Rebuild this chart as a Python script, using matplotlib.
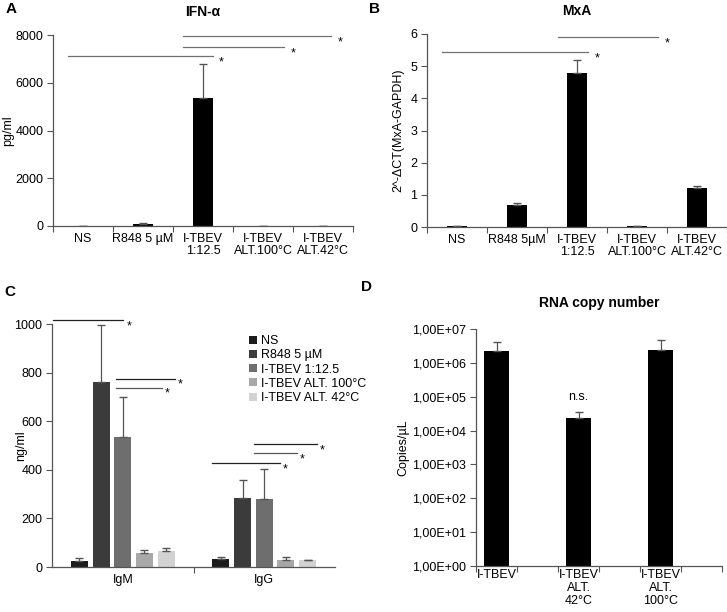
import numpy as np
import matplotlib
matplotlib.use('Agg')
from matplotlib import pyplot as plt

plt.rcParams['font.family'] = ['Liberation Sans', 'DejaVu Sans']
plt.rcParams['font.size'] = 9

# A : IFN-alpha
cats_a = ['NS', 'R848 5 µM', 'I-TBEV\n1:12.5', 'I-TBEV\nALT.100°C', 'I-TBEV\nALT.42°C']
ifn = [0, 100, 5350, 0, 0]
ifn_err = [0, 110, 6800, 0, 0]

# B : MxA
cats_b = ['NS', 'R848 5µM', 'I-TBEV\n1:12.5', 'I-TBEV\nALT.100°C', 'I-TBEV\nALT.42°C']
mxa = [0.02, 0.68, 4.78, 0.03, 1.22]
mxa_err = [0.03, 0.74, 5.2, 0.04, 1.28]

# C : IgM / IgG
groups_c = ['IgM', 'IgG']
series_c = ['NS', 'R848 5 µM', 'I-TBEV 1:12.5', 'I-TBEV ALT. 100°C', 'I-TBEV ALT. 42°C']
ig_vals = [[25, 33], [760, 283], [535, 280], [57, 30], [65, 28]]
ig_err = [[38, 43], [995, 357], [700, 402], [68, 43], [77, 28]]
colors_c = ['#1c1c1c', '#3b3b3b', '#6e6e6e', '#a8a8a8', '#d2d2d2']

# D : RNA copy number
cats_d = ['I-TBEV', 'I-TBEV\nALT.\n42°C', 'I-TBEV\nALT.\n100°C']
rna = [2.2e6, 2.3e4, 2.4e6]
rna_err = [4.2e6, 3.5e4, 4.7e6]

W, H = 727, 612
fig = plt.figure(figsize=(W / 100, H / 100), dpi=100)


def box(l, t, r, b):
    return [l / W, 1 - b / H, (r - l) / W, (b - t) / H]


def style(ax):
    for s in ['top', 'right']:
        ax.spines[s].set_visible(False)
    for s in ['left', 'bottom']:
        ax.spines[s].set_color('#555555')
        ax.spines[s].set_linewidth(0.9)
    ax.tick_params(axis='y', direction='out', length=4, color='#555555', pad=3)
    ax.tick_params(axis='x', which='major', direction='out', length=4, color='#555555')
    ax.tick_params(axis='x', which='minor', length=0, pad=5)


def cat_axis(ax, labels, pos):
    n = len(labels)
    ax.set_xticks(np.arange(-0.5, n - 0.4, 1))
    ax.set_xticklabels([])
    ax.set_xticks(pos, minor=True)
    ax.set_xticklabels(labels, minor=True, linespacing=1.05)


def sig(ax, x0, x1, y, xs, color='#707070'):
    ax.plot([x0, x1], [y, y], color=color, lw=0.9, clip_on=False)
    ax.text(xs, y, '*', ha='center', va='top', fontsize=9, clip_on=False)


# ---- A
ax = fig.add_axes(box(53, 35, 353, 226))
x = np.arange(5)
v = np.array(ifn)
ax.bar(x, v, width=0.32, color='black')
ax.errorbar(x, v, yerr=[np.zeros(5), np.array(ifn_err) - v], fmt='none',
            ecolor='#555555', elinewidth=0.9, capsize=3)
ax.set_xlim(-0.5, 4.5)
ax.set_ylim(0, 8000)
ax.set_yticks([0, 2000, 4000, 6000, 8000])
style(ax)
cat_axis(ax, cats_a, x)
ax.set_ylabel('pg/ml')
ax.yaxis.set_label_coords((14 - 53) / 300, 0.5)
ax.set_title('IFN-α', fontweight='bold', fontsize=10, pad=14)
sig(ax, -0.25, 2.17, 7120, 2.3)
sig(ax, 1.67, 3.35, 7500, 3.5)
sig(ax, 1.67, 4.13, 7960, 4.28)

# ---- B
ax = fig.add_axes(box(427, 34, 727, 227))
v = np.array(mxa)
ax.bar(x, v, width=0.32, color='black')
ax.errorbar(x, v, yerr=[np.zeros(5), np.array(mxa_err) - v], fmt='none',
            ecolor='#555555', elinewidth=0.9, capsize=3)
ax.set_xlim(-0.5, 4.5)
ax.set_ylim(0, 6)
ax.set_yticks(range(7))
style(ax)
cat_axis(ax, cats_b, x)
ax.set_ylabel('2^-ΔCT(MxA-GAPDH)')
ax.yaxis.set_label_coords((404 - 427) / 300, 0.5)
ax.set_title('MxA', fontweight='bold', fontsize=10, pad=14)
sig(ax, -0.25, 2.18, 5.44, 2.33)
sig(ax, 1.68, 3.35, 5.9, 3.5)

# ---- C
ax = fig.add_axes(box(52, 324, 335, 567))
gx = np.arange(2)
step = 0.153
for i in range(5):
    xi = gx + (i - 2) * step
    vi = np.array(ig_vals[i])
    ax.bar(xi, vi, width=0.12, color=colors_c[i], label=series_c[i])
    ax.errorbar(xi, vi, yerr=[np.zeros(2), np.array(ig_err[i]) - vi], fmt='none',
                ecolor='#555555', elinewidth=0.9, capsize=3)
ax.set_xlim(-0.5, 1.5)
ax.set_ylim(0, 1000)
ax.set_yticks([0, 200, 400, 600, 800, 1000])
style(ax)
ax.set_xticks([0.5])
ax.set_xticklabels([])
ax.set_xticks(gx, minor=True)
ax.set_xticklabels(groups_c, minor=True)
ax.set_ylabel('ng/ml')
ax.yaxis.set_label_coords((27 - 52) / 283, 0.5)
sig(ax, -0.49, 0.0, 1016, 0.045, color='#222222')
sig(ax, -0.05, 0.37, 774, 0.405, color='#222222')
sig(ax, -0.05, 0.28, 737, 0.315, color='#555555')
sig(ax, 0.93, 1.37, 506, 1.41, color='#222222')
sig(ax, 0.93, 1.23, 469, 1.27, color='#555555')
sig(ax, 0.63, 1.11, 428, 1.15, color='#222222')
ax.legend(loc='upper left', bbox_to_anchor=(0.68, 0.975), frameon=False,
          handlelength=0.6, handleheight=0.6, handletextpad=0.3,
          labelspacing=0.18, borderaxespad=0, fontsize=9)

# ---- D
ax = fig.add_axes(box(476, 329, 722, 566))
xd = np.array([0, 2, 4])
v = np.array(rna)
ax.bar(xd, v, width=0.6, color='black')
ax.errorbar(xd, v, yerr=[np.zeros(3), np.array(rna_err) - v], fmt='none',
            ecolor='#555555', elinewidth=0.9, capsize=3)
ax.set_yscale('log')
ax.set_xlim(-0.5, 5.5)
ax.set_ylim(1, 1e7)
ax.set_yticks([10.0 ** k for k in range(8)])
ax.set_yticklabels(['1,00E+0%d' % k for k in range(8)])
ax.yaxis.set_minor_locator(matplotlib.ticker.NullLocator())
style(ax)
ax.tick_params(axis='x', which='minor', pad=2)
ax.set_xticks(np.arange(-0.5, 5.6, 1))
ax.set_xticklabels([])
ax.set_xticks(xd, minor=True)
ax.set_xticklabels(cats_d, minor=True, linespacing=1.12)
ax.set_ylabel('Copies/µL')
ax.yaxis.set_label_coords((409 - 476) / 246, 0.5)
ax.set_title('RNA copy number', fontweight='bold', fontsize=10, pad=16)
ax.text(2, 1e5, 'n.s.', ha='center', va='center', fontsize=9)

# panel letters
for lab, px, py in [('A', 11, 9), ('B', 375, 9), ('C', 10, 292), ('D', 367, 287)]:
    fig.text(px / W, 1 - py / H, lab, fontsize=11, fontweight='bold', ha='center', va='center')

fig.savefig('out.png', dpi=100)
